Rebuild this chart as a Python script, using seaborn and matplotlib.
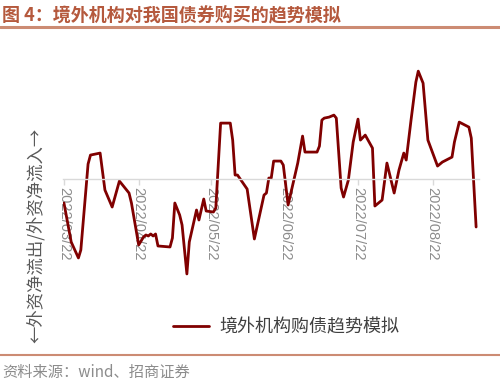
import pandas as pd
import numpy as np
import matplotlib
matplotlib.use('Agg')
import matplotlib.pyplot as plt
import matplotlib.dates as mdates
from matplotlib.lines import Line2D
import seaborn as sns

sns.set_style('white')
plt.rcParams['font.family'] = ['Noto Sans CJK SC', 'DejaVu Sans']

# simulated trend of foreign purchases of Chinese bonds (arbitrary units)
dates = [
    '2022-03-22', '2022-03-25', '2022-03-28', '2022-03-29', '2022-04-01', '2022-04-02',
    '2022-04-06', '2022-04-08', '2022-04-11', '2022-04-14', '2022-04-18', '2022-04-19',
    '2022-04-22', '2022-04-24', '2022-04-25', '2022-04-26', '2022-04-27', '2022-04-28',
    '2022-04-29', '2022-04-30', '2022-05-05', '2022-05-06', '2022-05-07', '2022-05-09',
    '2022-05-10', '2022-05-12', '2022-05-13', '2022-05-16', '2022-05-17', '2022-05-19',
    '2022-05-20', '2022-05-23', '2022-05-24', '2022-05-26', '2022-05-30', '2022-05-31',
    '2022-06-01', '2022-06-02', '2022-06-06', '2022-06-09', '2022-06-13', '2022-06-14',
    '2022-06-15', '2022-06-16', '2022-06-17', '2022-06-20', '2022-06-21', '2022-06-23',
    '2022-06-27', '2022-06-29', '2022-06-30', '2022-07-05', '2022-07-06', '2022-07-07',
    '2022-07-08', '2022-07-10', '2022-07-12', '2022-07-13', '2022-07-15', '2022-07-16',
    '2022-07-18', '2022-07-20', '2022-07-22', '2022-07-23', '2022-07-25', '2022-07-28',
    '2022-07-29', '2022-08-01', '2022-08-03', '2022-08-06', '2022-08-08', '2022-08-10',
    '2022-08-11', '2022-08-13', '2022-08-15', '2022-08-16', '2022-08-18', '2022-08-20',
    '2022-08-24', '2022-08-26', '2022-08-30', '2022-08-31', '2022-09-02', '2022-09-06',
    '2022-09-07', '2022-09-09',
]
values = [
    -24, -63, -79, -71, 15, 24,
    26, -11, -28, -2, -14, -24,
    -66, -58, -56, -57, -55, -57,
    -55, -67, -68, -59, -24, -36,
    -46, -95, -63, -31, -41, -20,
    -32, -33, -29, 56, 56, 39,
    4, 4, -10, -60, -16, -14,
    1, 1, 18, 18, 14, -26,
    16, 43, 27, 27, 33, 59,
    61, 62, 64, 61, -9, -18,
    -1, 37, 60, 39, 44, 31,
    -27, -21, 16, -14, 9, 26,
    19, 59, 97, 108, 96, 39,
    13, 17, 22, 37, 57, 52,
    41, -48,
]
tick_dates = ['2022-03-22', '2022-04-22', '2022-05-22', '2022-06-22', '2022-07-22', '2022-08-22']

title = '图 4：境外机构对我国债券购买的趋势模拟'
series_name = '境外机构购债趋势模拟'
ylabel = '←外资净流出/外资净流入→'
source = '资料来源：wind、招商证券'

df = pd.DataFrame({'date': pd.to_datetime(dates), 'value': values})

line_color = '#800000'
accent = '#B5593D'
rule_color = '#CC8B73'

fig = plt.figure(figsize=(5.0, 3.86), dpi=100)
ax = fig.add_axes([0.126, 0.223, 0.832, 0.647])

sns.lineplot(data=df, x='date', y='value', ax=ax, color=line_color, linewidth=2.0,
             label=series_name, legend=False)

start = pd.Timestamp('2022-03-22')
ax.set_xlim(start - pd.Timedelta(days=0.4), start + pd.Timedelta(days=172.2))
ax.set_ylim(-121, 129)

for side in ['left', 'right', 'top']:
    ax.spines[side].set_visible(False)
ax.spines['bottom'].set_position(('data', 0))
ax.spines['bottom'].set_color('#D9D9D9')
ax.spines['bottom'].set_linewidth(1.0)

ax.set_xticks(pd.to_datetime(tick_dates))
ax.xaxis.set_major_formatter(mdates.DateFormatter('%Y/%m/%d'))
ax.tick_params(axis='x', direction='out', length=4, width=1, color='#D9D9D9',
               labelcolor='#8C8C8C', labelsize=10.5, pad=2, bottom=True)
for lab in ax.get_xticklabels():
    lab.set_rotation(270)
    lab.set_ha('center')
    lab.set_va('top')
    lab.set_family(['Liberation Sans', 'DejaVu Sans'])
ax.set_yticks([])
ax.set_xlabel('')
ax.set_ylabel('')

fig.text(0.072, 0.391, ylabel, rotation=90, ha='center', va='center',
         fontsize=12.5, color='#595959')

# title and rules
fig.text(0.004, 0.962, title, ha='left', va='center', fontsize=13,
         fontweight='bold', color=accent)
fig.add_artist(Line2D([0, 1], [0.930, 0.930], color=rule_color, linewidth=2.2))
fig.add_artist(Line2D([0, 1], [0.080, 0.080], color=rule_color, linewidth=1.5))

# legend
handles = [Line2D([], [], color=line_color, linewidth=2.0)]
fig.legend(handles, [series_name], loc='center', bbox_to_anchor=(0.572, 0.153),
           frameon=False, fontsize=13, handlelength=2.0, handletextpad=0.6,
           labelcolor='#404040')

fig.text(0.004, 0.035, source, ha='left', va='center', fontsize=11, color='#8C8C8C')

plt.savefig('out.png', dpi=100)
plt.close()
